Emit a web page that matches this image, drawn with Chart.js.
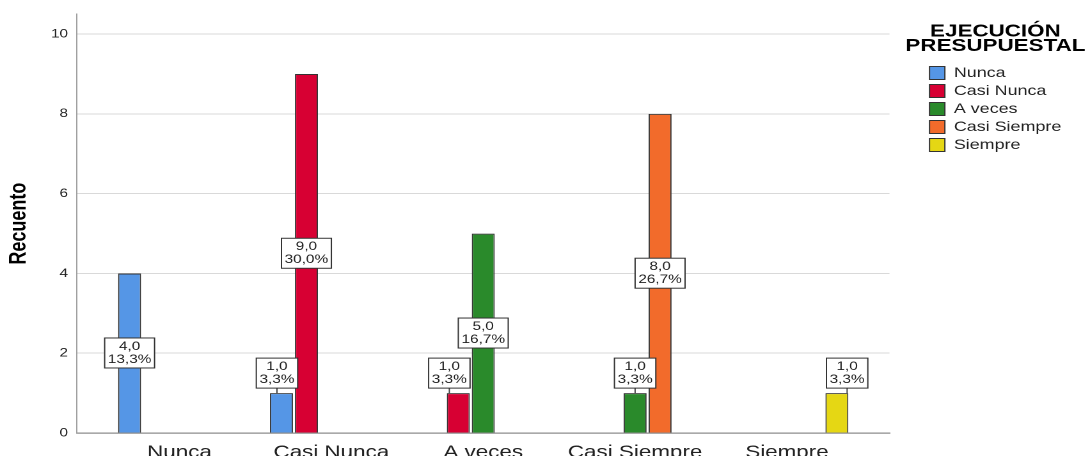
<!DOCTYPE html>
<html lang="es">
<head>
<meta charset="utf-8">
<script src="https://cdn.jsdelivr.net/npm/chart.js@4.4.1/dist/chart.umd.min.js"></script>
<style>
html,body{margin:0;padding:0;background:#fff;overflow:hidden;}
/* le graphique d'origine est étiré horizontalement : on reproduit l'effet */
#wrap{position:absolute;left:0;top:0;width:852px;height:456px;transform:scaleX(1.2793);transform-origin:0 0;}
</style>
</head>
<body>
<div id="wrap"><canvas id="chart-recuento"></canvas></div>
<script>
// Recuento por categoría — EJECUCIÓN PRESUPUESTAL

const categorias = ["Nunca","Casi Nunca","A veces","Casi Siempre","Siempre"];
const serieNunca       = [4, 1, 0, 0, 0];
const serieCasiNunca   = [0, 9, 1, 0, 0];
const serieAVeces      = [0, 0, 5, 1, 0];
const serieCasiSiempre = [0, 0, 0, 8, 0];
const serieSiempre     = [0, 0, 0, 0, 1];
const ticksY = [0, 2, 4, 6, 8, 10];
const tituloLeyenda = ["EJECUCIÓN","PRESUPUESTAL"];

const FONT = '"Liberation Sans", Arial, sans-serif';
Chart.defaults.font.family = FONT;

const series = [
  {label:"Nunca",        valores:serieNunca,       color:"#5596E6"},
  {label:"Casi Nunca",   valores:serieCasiNunca,   color:"#D70033"},
  {label:"A veces",      valores:serieAVeces,      color:"#2A8A2B"},
  {label:"Casi Siempre", valores:serieCasiSiempre, color:"#F26B2B"},
  {label:"Siempre",      valores:serieSiempre,     color:"#E5D714"},
];
const total = series.reduce((s,x)=>s + x.valores.reduce((a,b)=>a+b,0), 0);

const coma = (v)=>v.toFixed(1).replace(".", ",");

const TITULO_PAD = 9, TITULO_FONT = 17.5, TITULO_LH = 14.5;

// étiquettes "valeur / %" encadrées, comme SPSS
const etiquetas = {
  id:"etiquetas",
  afterDatasetsDraw(chart, args, opts){
    const ctx = chart.ctx;
    ctx.save();
    ctx.font = `12px ${FONT}`;
    ctx.textAlign = "center"; ctx.textBaseline = "middle";
    chart.data.datasets.forEach((ds, di) => {
      chart.getDatasetMeta(di).data.forEach((bar, j) => {
        const p = ds.data[j];
        const l1 = coma(p.y), l2 = coma(p.y / total * 100) + "%";
        const w = Math.max(ctx.measureText(l1).width, ctx.measureText(l2).width) + 5;
        const h = 30;
        const cx = bar.x + (opts.decalages[`${di}:${p.x}`] || 0);
        let cy;
        if (bar.base - bar.y > h + 10) {
          cy = (bar.y + bar.base) / 2;
        } else {
          // barre trop courte : étiquette au-dessus, petit trait de rappel
          cy = bar.y - 5 - h / 2;
          ctx.strokeStyle = "#444"; ctx.lineWidth = 1;
          ctx.beginPath(); ctx.moveTo(cx, cy + h / 2); ctx.lineTo(cx, bar.y); ctx.stroke();
        }
        ctx.fillStyle = "#fff"; ctx.fillRect(cx - w / 2, cy - h / 2, w, h);
        ctx.strokeStyle = "#333"; ctx.lineWidth = 1; ctx.strokeRect(cx - w / 2, cy - h / 2, w, h);
        ctx.fillStyle = "#222";
        ctx.fillText(l1, cx, cy - 6.5);
        ctx.fillText(l2, cx, cy + 6.5);
      });
    });
    ctx.restore();
  },
  // le titre de la légende déborde de sa boîte (Chart.js le couperait) : on le trace ici
  afterDraw(chart, args, opts){
    const lg = chart.legend;
    if (!lg) return;
    const ctx = chart.ctx;
    ctx.save();
    ctx.font = `bold ${TITULO_FONT}px ${FONT}`;
    ctx.fillStyle = "#000"; ctx.textAlign = "center"; ctx.textBaseline = "middle";
    const x = lg.left + lg.width / 2 + opts.tituloDx;
    tituloLeyenda.forEach((t, i) =>
      ctx.fillText(t, x, lg.top + TITULO_PAD + 8.5 + i * TITULO_LH));
    ctx.restore();
  }
};

new Chart(document.getElementById("chart-recuento"), {
  type:"bar",
  data:{
    datasets: series.map(s => ({
      label:s.label,
      data: categorias.map((c,i)=>({x:i, y:s.valores[i]})).filter(p=>p.y > 0),
      backgroundColor:s.color, borderColor:"#333", borderWidth:1,
      categoryPercentage:0.822, barPercentage:0.92,
    })),
  },
  options:{
    responsive:true, maintainAspectRatio:false, animation:false, devicePixelRatio:2,
    layout:{padding:{top:14, right:12.4, bottom:0, left:0}},
    scales:{
      x:{type:"linear", min:-0.675, max:4.675, offset:false,
        afterBuildTicks(s){ s.ticks = categorias.map((c,i)=>({value:i})); },
        afterFit(s){ s.height = 23; },
        grid:{display:false, drawTicks:false},
        border:{color:"#8C8C8C", width:1.3},
        ticks:{font:{size:17.5}, color:"#222", padding:9, maxRotation:0, autoSkip:false,
          callback:(v)=>categorias[v]}},
      y:{min:0, max:10.5,
        afterBuildTicks(s){ s.ticks = ticksY.map(v=>({value:v})); },
        afterFit(s){ s.width = 60.2; },
        grid:{color:"#D9D9D9", drawTicks:false},
        border:{color:"#A0A0A0", width:1},
        ticks:{font:{size:12}, color:"#222", padding:7},
        title:{display:true, text:"Recuento", color:"#000",
          font:{size:18, weight:"bold"}, padding:{top:4.4, bottom:0}}},
      // axe vide : simple espace entre la zone du graphique et la légende
      hueco:{type:"linear", position:"right", display:true,
        grid:{display:false}, border:{display:false}, ticks:{display:false},
        afterFit(s){ s.width = 27.3; }},
    },
    plugins:{
      tooltip:{enabled:false},
      legend:{position:"right", align:"start",
        // titre invisible : il ne sert qu'à réserver la hauteur
        title:{display:true, text:tituloLeyenda, color:"rgba(0,0,0,0)",
          font:{size:TITULO_FONT, weight:"bold", lineHeight:TITULO_LH/TITULO_FONT},
          padding:{top:TITULO_PAD, bottom:24.5}},
        labels:{boxWidth:12, boxHeight:13, padding:4, color:"#222", font:{size:14}}},
      etiquetas:{decalages:{"0:1":-3.5, "1:2":-7, "4:4":8}, tituloDx:-3},
    },
  },
  plugins:[etiquetas],
});
</script>
</body>
</html>
